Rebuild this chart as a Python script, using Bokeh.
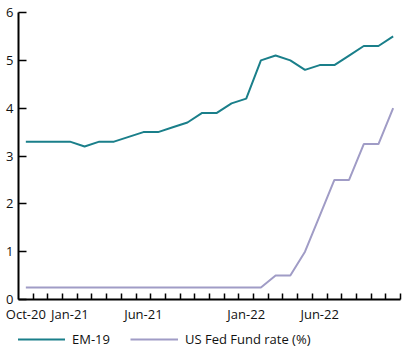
from bokeh.plotting import figure
from bokeh.layouts import column
from bokeh.models import FixedTicker, Legend, LegendItem, Range1d
from bokeh.embed import file_html
from bokeh.resources import INLINE

months = ["Oct-20", "Nov-20", "Dec-20", "Jan-21", "Feb-21", "Mar-21", "Apr-21", "May-21",
          "Jun-21", "Jul-21", "Aug-21", "Sep-21", "Oct-21", "Nov-21", "Dec-21", "Jan-22",
          "Feb-22", "Mar-22", "Apr-22", "May-22", "Jun-22", "Jul-22", "Aug-22", "Sep-22",
          "Oct-22", "Nov-22"]
em19 = [3.3, 3.3, 3.3, 3.3, 3.2, 3.3, 3.3, 3.4, 3.5, 3.5, 3.6, 3.7, 3.9, 3.9, 4.1, 4.2,
        5.0, 5.1, 5.0, 4.8, 4.9, 4.9, 5.1, 5.3, 5.3, 5.5]
fed = [0.25] * 17 + [0.5, 0.5, 1.0, 1.75, 2.5, 2.5, 3.25, 3.25, 4.0]
shown_labels = ["Oct-20", "Jan-21", "Jun-21", "Jan-22", "Jun-22"]
y_ticks = [0, 1, 2, 3, 4, 5, 6]
series_names = ["EM-19", "US Fed Fund rate (%)"]
series_colors = ["#1a7f8a", "#a09cc6"]

xs = [i + 0.5 for i in range(len(months))]
FONT = "Open Sans"

p = figure(frame_width=382, frame_height=287, output_backend="svg", toolbar_location=None,
           x_range=Range1d(0, len(months)), y_range=Range1d(0, 6),
           min_border_left=18, min_border_right=14, min_border_top=12, min_border_bottom=25)
p.outline_line_color = None
p.grid.visible = False

p.line(xs, em19, line_color=series_colors[0], line_width=2)
p.line(xs, fed, line_color=series_colors[1], line_width=2)

major = [months.index(m) + 0.5 for m in shown_labels]
p.xaxis.ticker = FixedTicker(ticks=major, minor_ticks=list(range(1, len(months) + 1)))
p.xaxis.major_label_overrides = {months.index(m) + 0.5: m for m in shown_labels}
p.xaxis.major_tick_in = 0
p.xaxis.major_tick_out = 0
p.xaxis.minor_tick_in = 6
p.xaxis.minor_tick_out = 0
p.xaxis.minor_tick_line_color = "black"
p.xaxis.minor_tick_line_width = 1.5
p.xaxis.major_label_standoff = 5

p.yaxis.ticker = FixedTicker(ticks=y_ticks)
p.yaxis.major_tick_in = 8
p.yaxis.major_tick_out = 0
p.yaxis.minor_tick_line_color = None
p.yaxis.major_label_standoff = 5

for ax in (p.xaxis, p.yaxis):
    ax.axis_line_color = "black"
    ax.axis_line_width = 2
    ax.major_tick_line_color = "black"
    ax.major_tick_line_width = 1.5
    ax.major_label_text_font = FONT
    ax.major_label_text_font_size = "13px"
    ax.major_label_text_color = "#111111"

# legend strip as a separate small figure below the chart
lg = figure(width=414, height=30, output_backend="svg", toolbar_location=None,
            x_range=Range1d(0, 1), y_range=Range1d(0, 1),
            x_axis_location=None, y_axis_location=None,
            min_border_left=0, min_border_right=0, min_border_top=0, min_border_bottom=0)
lg.outline_line_color = None
lg.grid.visible = False
items = []
for name, col in zip(series_names, series_colors):
    r = lg.line([float("nan")], [float("nan")], line_color=col, line_width=2)
    items.append(LegendItem(label=name, renderers=[r]))
legend = Legend(items=items, orientation="horizontal", location=(-1, 6))
legend.margin = 0
legend.padding = 0
legend.spacing = 20
legend.glyph_width = 48
legend.glyph_height = 20
legend.label_height = 20
legend.label_standoff = 7
legend.label_text_font = FONT
legend.label_text_font_size = "13px"
legend.label_text_color = "#111111"
legend.border_line_color = None
legend.background_fill_alpha = 0
lg.add_layout(legend, "center")

open("out.html", "w").write(file_html(column(p, lg, spacing=0), INLINE))
